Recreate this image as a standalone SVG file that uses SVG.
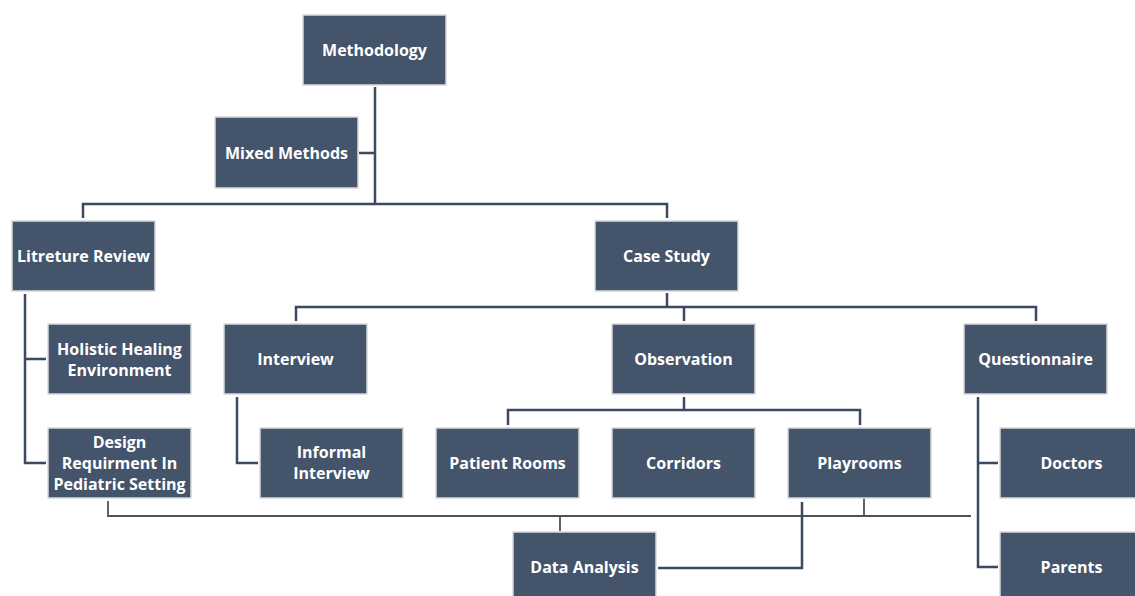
<svg xmlns="http://www.w3.org/2000/svg" width="1135" height="596" viewBox="0 0 1135 596">
<style>
.box{fill:#44546a;stroke:#d9d9d9;stroke-width:1.5}
.t{fill:#ffffff;font-family:"Open Sans","Liberation Sans",sans-serif;font-weight:700;font-size:16px;text-anchor:middle;dominant-baseline:central}
.c{fill:none;stroke:#3b4a5f;stroke-width:2.5}
.c2{fill:none;stroke:#4f5358;stroke-width:1.8}
</style>
<rect width="1135" height="596" fill="#ffffff"/>
<g id="connectors">
<path class="c" d="M375 87V204M359 153H375M83 218V204H667V218"/>
<path class="c" d="M667 293V307M296 321V307H1036V321M684 307V321"/>
<path class="c" d="M25 294V463H46M25 359H46"/>
<path class="c" d="M237 397V463H258"/>
<path class="c" d="M684 397V410M508 425V410H860V425"/>
<path class="c" d="M978 397V567H998M978 463H998"/>
<path class="c2" d="M108 501V516H971M560 516V531M864 491V517"/>
<path class="c" d="M658 568H802V502"/>
</g>
<g id="methodology"><rect class="box" x="303" y="15" width="143" height="70"/><text class="t" x="374.5" y="50">Methodology</text></g>
<g id="mixed-methods"><rect class="box" x="215" y="117" width="143" height="71"/><text class="t" x="286.5" y="152.5">Mixed Methods</text></g>
<g id="literature-review"><rect class="box" x="12" y="221" width="143" height="70"/><text class="t" x="83.5" y="256">Litreture Review</text></g>
<g id="case-study"><rect class="box" x="595" y="221" width="143" height="70"/><text class="t" x="666.5" y="256">Case Study</text></g>
<g id="holistic"><rect class="box" x="48" y="324" width="143" height="70"/><text class="t" x="119.5" y="349">Holistic Healing</text><text class="t" x="119.5" y="370">Environment</text></g>
<g id="design-req"><rect class="box" x="48" y="428" width="143" height="70"/><text class="t" x="119.5" y="442">Design</text><text class="t" x="119.5" y="463">Requirment In</text><text class="t" x="119.5" y="484">Pediatric Setting</text></g>
<g id="interview"><rect class="box" x="224" y="324" width="143" height="70"/><text class="t" x="295.5" y="359">Interview</text></g>
<g id="informal-interview"><rect class="box" x="260" y="428" width="143" height="70"/><text class="t" x="331.5" y="452">Informal</text><text class="t" x="331.5" y="473">Interview</text></g>
<g id="observation"><rect class="box" x="612" y="324" width="143" height="70"/><text class="t" x="683.5" y="359">Observation</text></g>
<g id="questionnaire"><rect class="box" x="964" y="324" width="143" height="70"/><text class="t" x="1035.5" y="359">Questionnaire</text></g>
<g id="patient-rooms"><rect class="box" x="436" y="428" width="143" height="70"/><text class="t" x="507.5" y="463">Patient Rooms</text></g>
<g id="corridors"><rect class="box" x="612" y="428" width="143" height="70"/><text class="t" x="683.5" y="463">Corridors</text></g>
<g id="playrooms"><rect class="box" x="788" y="428" width="143" height="70"/><text class="t" x="859.5" y="463">Playrooms</text></g>
<g id="doctors"><rect class="box" x="1000" y="428" width="143" height="70"/><text class="t" x="1071.5" y="463">Doctors</text></g>
<g id="parents"><rect class="box" x="1000" y="532" width="143" height="70"/><text class="t" x="1071.5" y="567">Parents</text></g>
<g id="data-analysis"><rect class="box" x="513" y="532" width="143" height="70"/><text class="t" x="584.5" y="567">Data Analysis</text></g>
</svg>
